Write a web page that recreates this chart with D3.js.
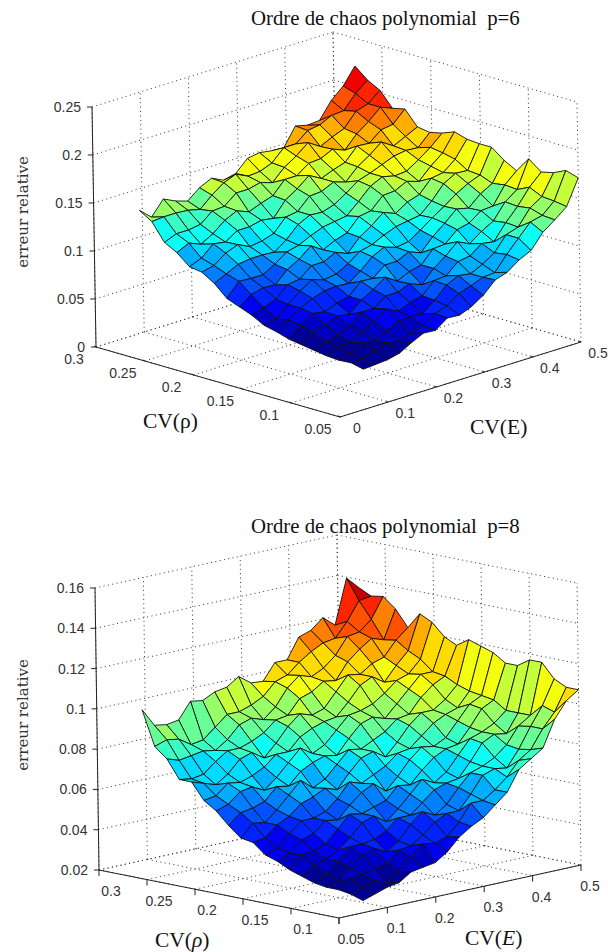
<!DOCTYPE html>
<meta charset="utf-8">

<!-- Load d3.js -->
<script src="https://d3js.org/d3.v7.min.js"></script>

<style>
    html, body { margin: 0; padding: 0; background: #fff; }
    svg { display: block; }
</style>

<!-- Create a div where the graph will take place -->
<div id="my_dataviz"></div>

<script>
    // surface grid, same for both plots
    var cvE = [.05, .075, .1, .125, .15, .175, .2, .225, .25, .275, .3, .325, .35, .375, .4, .425, .45, .475, .5];
    var cvRho = [.05, .0627, .0753, .088, .1007, .1133, .126, .1387, .1513, .164, .1767, .1893, .202, .2147, .2273, .24, .2527, .2653, .278];

    // p=6 : relative error, one row per cvRho, one column per cvE
    var errP6 = [
        [.042, .043, .044, .047, .054, .060, .059, .068, .067, .072, .080, .092, .096, .105, .111, .126, .135, .145, .171],
        [.045, .045, .050, .054, .052, .056, .060, .069, .073, .082, .086, .091, .092, .107, .120, .133, .136, .147, .175],
        [.044, .047, .054, .053, .059, .065, .066, .065, .075, .087, .093, .091, .097, .105, .120, .124, .140, .148, .169],
        [.045, .050, .051, .058, .065, .074, .068, .073, .076, .088, .089, .100, .102, .111, .109, .125, .138, .154, .166],
        [.047, .052, .055, .060, .071, .071, .080, .080, .085, .080, .093, .102, .113, .107, .116, .123, .139, .148, .176],
        [.049, .058, .062, .067, .065, .076, .083, .092, .084, .090, .093, .106, .107, .118, .121, .130, .131, .149, .160],
        [.051, .062, .070, .068, .073, .076, .088, .087, .097, .097, .103, .098, .111, .121, .132, .129, .140, .147, .167],
        [.055, .063, .072, .078, .082, .083, .082, .091, .102, .108, .104, .106, .114, .123, .131, .140, .147, .152, .177],
        [.058, .061, .072, .082, .090, .086, .088, .095, .104, .107, .113, .118, .120, .122, .133, .147, .154, .153, .177],
        [.065, .069, .074, .085, .087, .097, .097, .103, .098, .111, .119, .129, .124, .132, .136, .149, .151, .161, .178],
        [.070, .079, .082, .081, .093, .100, .110, .102, .108, .112, .125, .127, .139, .140, .146, .142, .154, .164, .182],
        [.075, .089, .088, .088, .095, .104, .107, .113, .118, .120, .122, .133, .145, .151, .148, .149, .157, .166, .177],
        [.087, .093, .099, .101, .101, .100, .109, .121, .127, .126, .130, .138, .147, .151, .156, .161, .163, .162, .174],
        [.095, .098, .107, .112, .106, .108, .112, .125, .127, .139, .140, .146, .142, .154, .162, .172, .164, .170, .176],
        [.097, .102, .113, .111, .119, .119, .122, .120, .135, .143, .153, .146, .151, .155, .168, .167, .177, .179, .191],
        [.108, .114, .109, .116, .126, .132, .127, .132, .136, .149, .149, .158, .159, .165, .160, .173, .182, .193, .188],
        [.115, .120, .120, .122, .132, .133, .143, .143, .146, .142, .154, .162, .172, .164, .170, .175, .189, .193, .203],
        [.133, .134, .134, .133, .130, .141, .150, .155, .149, .150, .155, .167, .167, .177, .179, .185, .186, .200, .210],
        [.141, .130, .145, .139, .135, .145, .151, .145, .148, .160, .162, .160, .159, .178, .175, .176, .193, .204, .221]
    ];

    // p=8
    var errP8 = [
        [.026, .028, .030, .031, .035, .036, .037, .041, .047, .051, .054, .059, .064, .074, .078, .082, .095, .103, .107],
        [.028, .030, .032, .030, .034, .040, .045, .044, .046, .052, .060, .060, .064, .069, .076, .080, .089, .096, .107],
        [.029, .033, .034, .035, .037, .042, .043, .047, .052, .055, .055, .062, .070, .072, .071, .079, .089, .098, .110],
        [.029, .031, .036, .041, .043, .040, .044, .051, .056, .053, .057, .064, .070, .072, .075, .080, .088, .092, .117],
        [.030, .033, .038, .044, .044, .045, .048, .053, .053, .058, .063, .065, .066, .073, .081, .084, .083, .092, .117],
        [.032, .036, .038, .041, .046, .052, .054, .050, .055, .061, .067, .064, .068, .075, .082, .084, .087, .092, .113],
        [.034, .040, .041, .043, .049, .055, .054, .056, .058, .064, .063, .069, .074, .077, .078, .085, .093, .096, .113],
        [.037, .040, .045, .047, .052, .051, .057, .062, .065, .060, .066, .073, .078, .077, .080, .087, .094, .097, .117],
        [.039, .041, .047, .052, .052, .054, .059, .066, .064, .067, .070, .075, .076, .081, .086, .089, .091, .098, .119],
        [.044, .045, .050, .053, .058, .060, .063, .061, .068, .074, .076, .072, .078, .085, .090, .090, .094, .100, .121],
        [.045, .051, .050, .055, .061, .067, .062, .065, .071, .077, .076, .079, .082, .087, .088, .095, .100, .103, .117],
        [.050, .055, .056, .058, .064, .063, .069, .072, .074, .073, .080, .086, .088, .086, .092, .098, .104, .104, .120],
        [.056, .058, .063, .064, .061, .066, .072, .078, .074, .077, .083, .089, .090, .092, .096, .101, .103, .109, .126],
        [.060, .061, .066, .065, .067, .070, .075, .075, .081, .084, .086, .087, .093, .100, .103, .099, .106, .112, .129],
        [.068, .066, .064, .068, .074, .076, .072, .078, .085, .090, .088, .090, .097, .104, .103, .107, .109, .116, .121],
        [.068, .067, .068, .073, .077, .077, .079, .082, .087, .088, .095, .097, .101, .100, .108, .113, .117, .115, .129],
        [.077, .075, .076, .077, .076, .080, .086, .088, .086, .091, .099, .104, .102, .105, .110, .118, .119, .124, .134],
        [.082, .084, .083, .079, .080, .085, .090, .090, .092, .095, .101, .103, .108, .112, .115, .116, .123, .132, .133],
        [.099, .090, .089, .090, .098, .097, .100, .101, .105, .1005, .100, .108, .108, .118, .120, .125, .120, .142, .136]
    ];

    // tick labels
    var eTicks = [0, .1, .2, .3, .4, .5];
    var eLabels1 = ["0", "0.1", "0.2", "0.3", "0.4", "0.5"];
    var eLabels2 = ["", "0.1", "0.2", "0.3", "0.4", "0.5"];
    var rhoTicks = [.05, .1, .15, .2, .25, .3];
    var rhoLabels = ["0.05", "0.1", "0.15", "0.2", "0.25", "0.3"];
    var zTicks1 = [0, .05, .1, .15, .2, .25];
    var zLabels1 = ["0", "0.05", "0.1", "0.15", "0.2", "0.25"];
    var zTicks2 = [.02, .04, .06, .08, .1, .12, .14, .16];
    var zLabels2 = ["0.02", "0.04", "0.06", "0.08", "0.1", "0.12", "0.14", "0.16"];

    // append the svg object to the body of the page
    var svg = d3.select("#my_dataviz")
        .append("svg")
        .attr("width", 608)
        .attr("height", 952);

    // jet colormap, cut in steps because the picture shows flat colour bands
    var jet = d3.scaleLinear()
        .domain([0, .125, .375, .625, .875, 1])
        .range(["#000080", "#0000ff", "#00ffff", "#ffff00", "#ff0000", "#800000"]);
    var colorSteps = 22;

    function drawPlot(o) {
        var g = svg.append("g");

        // each data axis adds its own screen offset (oblique projection)
        var ex = d3.scaleLinear().domain([0, .5]).range([0, o.eVec[0]]);
        var ey = d3.scaleLinear().domain([0, .5]).range([0, o.eVec[1]]);
        var rx = d3.scaleLinear().domain([.05, .3]).range([0, o.rhoVec[0]]);
        var ry = d3.scaleLinear().domain([.05, .3]).range([0, o.rhoVec[1]]);
        var zx = d3.scaleLinear().domain(o.zDomain).range([0, o.zVec[0]]);
        var zy = d3.scaleLinear().domain(o.zDomain).range([0, o.zVec[1]]);

        function project(e, rho, z) {
            return [o.front[0] + ex(e) + rx(rho) + zx(z),
                    o.front[1] + ey(e) + ry(rho) + zy(z)];
        }

        var zMin = o.zDomain[0], zMax = o.zDomain[1];
        var line = d3.line();
        var closed = d3.line().curve(d3.curveLinearClosed);

        function seg(a, b, cls) {
            g.append("path").attr("d", line([a, b]))
                .attr("fill", "none")
                .attr("stroke", cls == "grid" ? "#333" : "#222")
                .attr("stroke-width", 1)
                .attr("stroke-dasharray", cls == "grid" ? "1,3.4" : null);
        }

        // back walls and floor grid
        o.eTicks.forEach(function (e) {
            seg(project(e, .3, zMin), project(e, .05, zMin), "grid");
            seg(project(e, .3, zMin), project(e, .3, zMax), "grid");
        });
        o.rhoTicks.forEach(function (r) {
            seg(project(0, r, zMin), project(.5, r, zMin), "grid");
            seg(project(.5, r, zMin), project(.5, r, zMax), "grid");
        });
        o.zTicks.forEach(function (z) {
            seg(project(0, .3, z), project(.5, .3, z), "grid");
            seg(project(.5, .3, z), project(.5, .05, z), "grid");
        });

        // axes
        seg(project(0, .3, zMin), project(0, .3, zMax), "axis");
        seg(project(0, .3, zMin), project(0, .05, zMin), "axis");
        seg(project(0, .05, zMin), project(.5, .05, zMin), "axis");

        o.zTicks.forEach(function (z, i) {
            var p = project(0, .3, z);
            seg(p, [p[0] - 5, p[1]], "axis");
            g.append("text").attr("class", "tick")
                .attr("x", p[0] - 11).attr("y", p[1] + 5)
                .attr("text-anchor", "end")
                .text(o.zLabels[i]);
        });
        o.rhoTicks.forEach(function (r, i) {
            var p = project(0, r, zMin);
            seg(p, [p[0] + o.tick[0], p[1] + o.tick[1]], "axis");
            g.append("text").attr("class", "tick")
                .attr("x", p[0] + o.rhoOff[0]).attr("y", p[1] + o.rhoOff[1] + 5)
                .attr("text-anchor", "middle")
                .text(rhoLabels[i]);
        });
        o.eTicks.forEach(function (e, i) {
            var p = project(e, .05, zMin);
            seg(p, [p[0] + o.tick[0], p[1] + o.tick[1]], "axis");
            g.append("text").attr("class", "tick")
                .attr("x", p[0] + o.eOff[0]).attr("y", p[1] + o.eOff[1] + 5)
                .attr("text-anchor", "middle")
                .text(o.eLabels[i]);
        });

        // surface cells, painted from the back corner to the front
        var flat = o.err.reduce(function (a, b) { return a.concat(b); }, []);
        var color = d3.scaleLinear().domain(d3.extent(flat)).range([0, 1]);
        var cells = [];
        d3.range(cvRho.length - 1).forEach(function (r) {
            d3.range(cvE.length - 1).forEach(function (c) {
                cells.push({ r: r, c: c });
            });
        });
        cells.sort(function (a, b) { return (b.r + b.c) - (a.r + a.c); });

        g.selectAll("path.cell")
            .data(cells)
            .enter()
            .append("path")
            .attr("class", "cell")
            .attr("d", function (d) {
                return closed([
                    project(cvE[d.c], cvRho[d.r], o.err[d.r][d.c]),
                    project(cvE[d.c + 1], cvRho[d.r], o.err[d.r][d.c + 1]),
                    project(cvE[d.c + 1], cvRho[d.r + 1], o.err[d.r + 1][d.c + 1]),
                    project(cvE[d.c], cvRho[d.r + 1], o.err[d.r + 1][d.c])
                ]);
            })
            .attr("fill", function (d) {
                // flat shading from the first corner of the cell, like surf
                var t = color(o.err[d.r][d.c]);
                return jet((Math.min(Math.floor(t * colorSteps), colorSteps - 1) + .5) / colorSteps);
            })
            .attr("stroke", "#111")
            .attr("stroke-width", .9)
            .attr("stroke-linejoin", "round");

        // titles and labels
        g.append("text").attr("class", "title")
            .attr("x", 251).attr("y", o.titleY)
            .text(o.title);
        g.append("text").attr("class", "zlabel")
            .attr("transform", "translate(28," + o.zLabelY + ")rotate(-90)")
            .attr("text-anchor", "middle")
            .text("erreur relative");
        o.rhoLabel(g.append("text").attr("class", "lab")
            .attr("x", o.rhoPos[0]).attr("y", o.rhoPos[1]));
        o.eLabel(g.append("text").attr("class", "lab")
            .attr("x", o.ePos[0]).attr("y", o.ePos[1]));
    }

    drawPlot({
        err: errP6, front: [340, 417], eVec: [241, -75], rhoVec: [-244, -70], zVec: [-4, -240], zDomain: [0, .25],
        eTicks: eTicks, rhoTicks: rhoTicks, zTicks: zTicks1, zLabels: zLabels1, eLabels: eLabels1,
        tick: [-2, -1], rhoOff: [-22, 12], eOff: [17, 11],
        title: "Ordre de chaos polynomial  p=6", titleY: 25, zLabelY: 212,
        rhoPos: [143, 428], ePos: [470, 434],
        rhoLabel: function (t) { t.text("CV(\u03c1)"); },
        eLabel: function (t) { t.text("CV(E)"); }
    });

    drawPlot({
        err: errP8, front: [339, 918], eVec: [242, -53], rhoVec: [-240, -48], zVec: [-4, -282], zDomain: [.02, .16],
        eTicks: eTicks, rhoTicks: rhoTicks, zTicks: zTicks2, zLabels: zLabels2, eLabels: eLabels2,
        tick: [0, 6], rhoOff: [12, 21], eOff: [9, 21],
        title: "Ordre de chaos polynomial  p=8", titleY: 533, zLabelY: 715,
        rhoPos: [155, 947], ePos: [465, 945],
        rhoLabel: function (t) {
            t.append("tspan").text("CV(");
            t.append("tspan").attr("font-style", "italic").text("\u03c1");
            t.append("tspan").text(")");
        },
        eLabel: function (t) {
            t.append("tspan").text("CV(");
            t.append("tspan").attr("font-style", "italic").text("E");
            t.append("tspan").text(")");
        }
    });

    svg.selectAll("text.tick").style("font", "14px 'Liberation Sans'").style("fill", "#333");
    svg.selectAll("text.title").style("font", "20.8px 'Liberation Serif'").style("fill", "#111").style("white-space", "pre");
    svg.selectAll("text.zlabel").style("font", "15px 'DejaVu Serif'").style("fill", "#333");
    svg.selectAll("text.lab").style("font-family", "'Liberation Serif'").style("font-size", "21.5px").style("fill", "#111");
</script>
